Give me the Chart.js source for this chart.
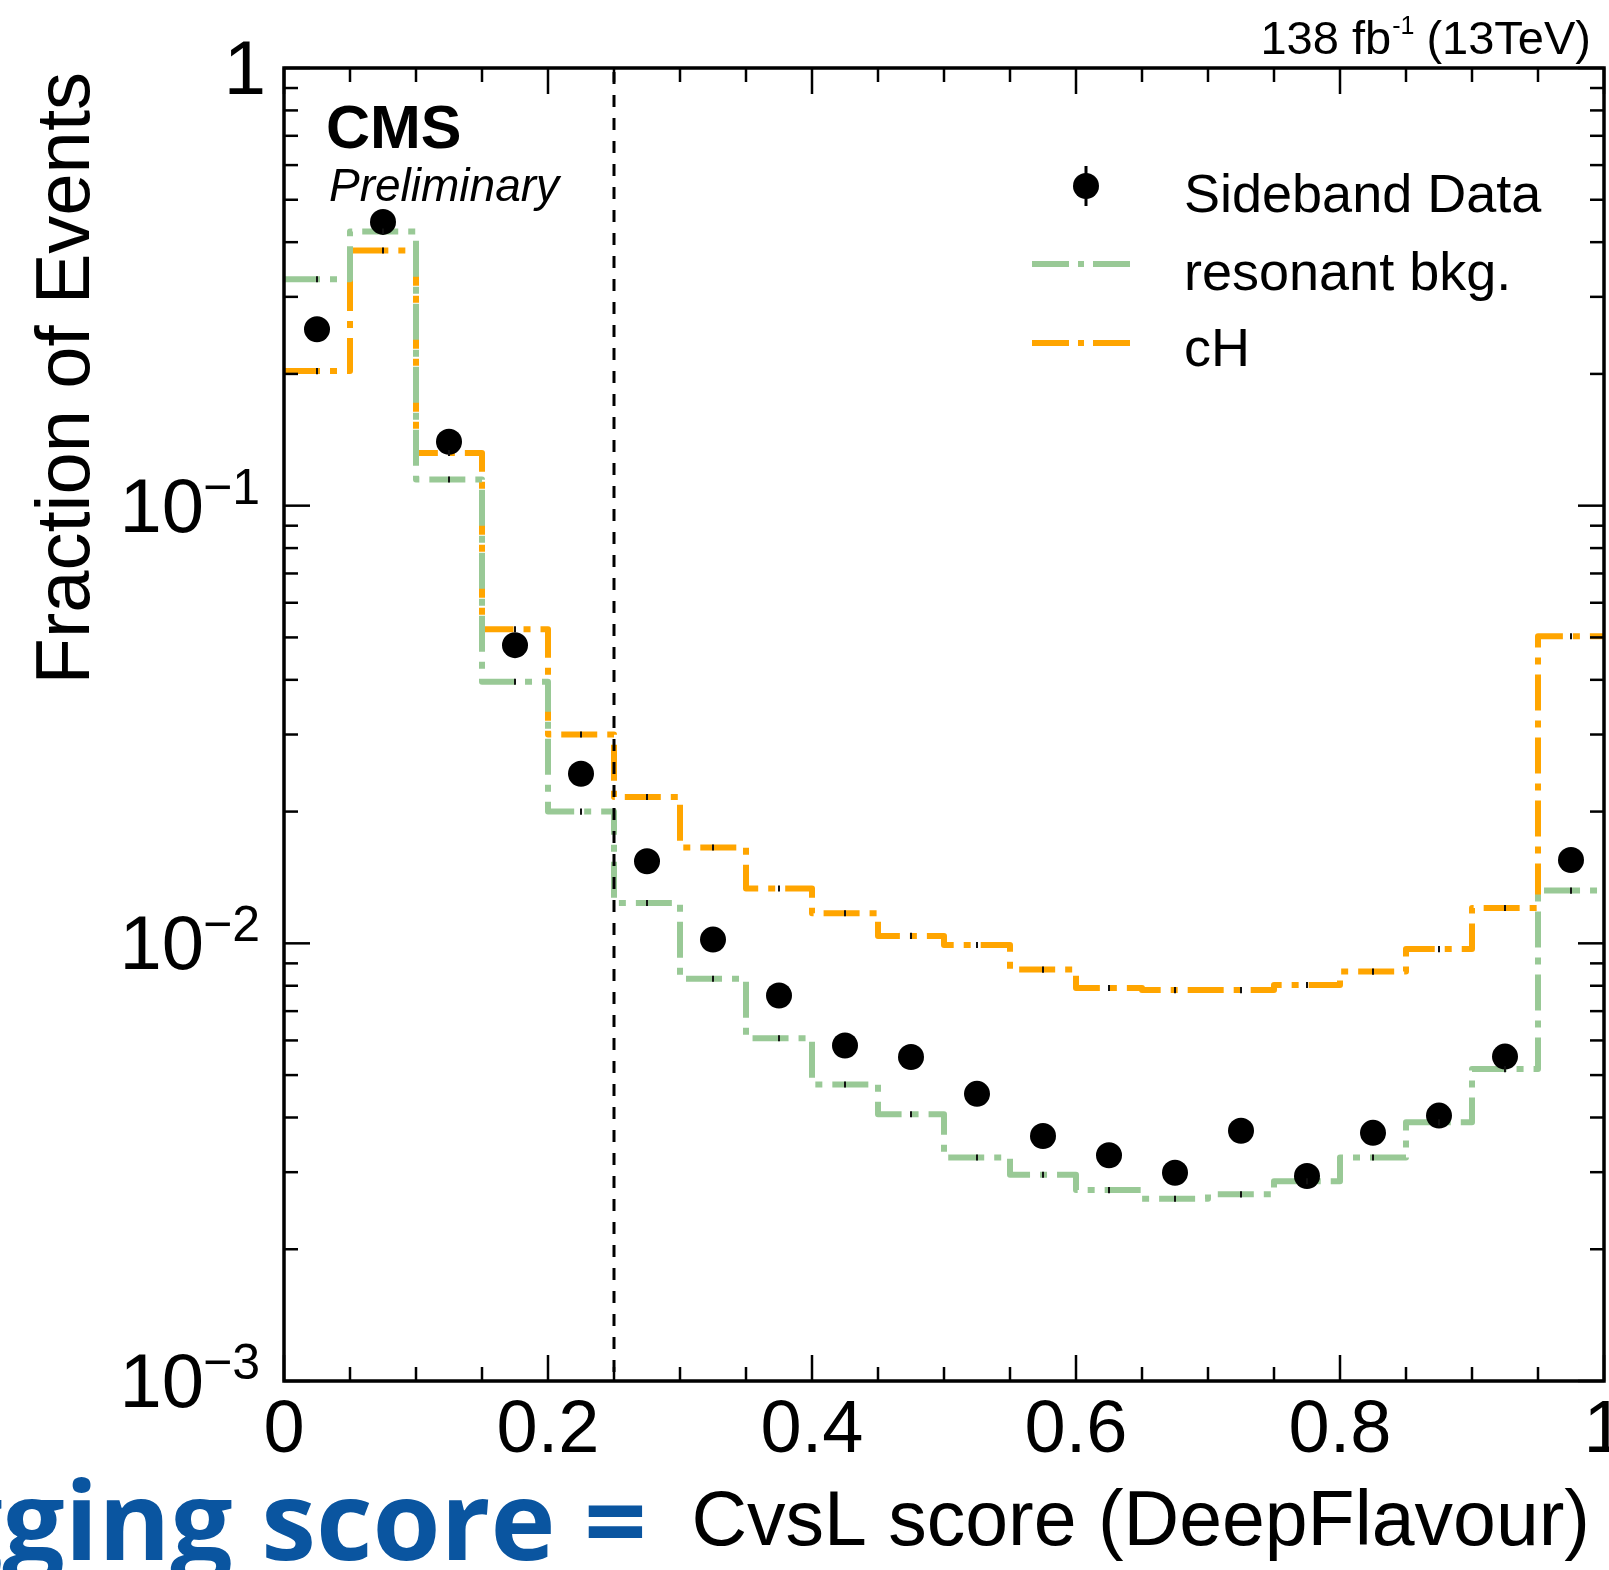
<!DOCTYPE html>
<html lang="en">
<head>
<meta charset="UTF-8" />
<title>CvsL score (DeepFlavour)</title>
<script src="https://cdn.jsdelivr.net/npm/chart.js"></script>
<style>
  html, body { margin: 0; padding: 0; background: #ffffff; }
  #wrap { width: 1609px; height: 1570px; }
</style>
</head>
<body>
<div id="wrap"><canvas id="myCanvas" width="1609" height="1570"></canvas></div>
<script>
  // bin edges of the CvsL score histogram
  const binEdges = [0, 0.05, 0.1, 0.15, 0.2, 0.25, 0.3, 0.35, 0.4, 0.45, 0.5,
                    0.55, 0.6, 0.65, 0.7, 0.75, 0.8, 0.85, 0.9, 0.95, 1.0];

  // fraction of events per bin
  const sidebandData = [0.253, 0.445, 0.140, 0.0480, 0.0244, 0.0154, 0.0102, 0.0076, 0.00584, 0.00550,
                        0.00453, 0.00363, 0.00328, 0.00299, 0.00373, 0.00294, 0.00369, 0.00404, 0.00551, 0.0155];
  const resonantBkg = [0.329, 0.423, 0.1148, 0.0396, 0.0200, 0.01237, 0.0083, 0.00607, 0.00476, 0.00407,
                       0.00324, 0.00296, 0.00273, 0.00261, 0.00267, 0.00286, 0.00324, 0.00390, 0.00516, 0.0132];
  const cHSignal = [0.203, 0.383, 0.132, 0.0522, 0.0300, 0.0216, 0.01656, 0.01334, 0.01172, 0.0104,
                    0.00991, 0.00871, 0.00791, 0.00782, 0.00782, 0.00803, 0.00862, 0.0097, 0.01204, 0.0503];
  const mcRelErr = 0.016;

  const cutValue = 0.25;

  const xMajorTicks = [0, 0.2, 0.4, 0.6, 0.8, 1];
  const xTickLabels = ['0', '0.2', '0.4', '0.6', '0.8', '1'];
  const yDecades = [1, 0.1, 0.01, 0.001];
  const yTickExponents = ['', '\u22121', '\u22122', '\u22123'];

  const GREEN = 'rgb(153, 201, 150)';
  const ORANGE = 'rgb(255, 165, 0)';
  const DASHDOT = [36, 10, 7, 10];
  const FONT = '"Liberation Sans", Arial, Helvetica, sans-serif';

  function stepPoints(values) {
    const pts = values.map(function (v, i) { return { x: binEdges[i], y: v }; });
    pts.push({ x: binEdges[binEdges.length - 1], y: values[values.length - 1] });
    return pts;
  }

  const binCenters = sidebandData.map(function (v, i) { return (binEdges[i] + binEdges[i + 1]) / 2; });

  // frame, inside ticks, labels, cut line, legend and headers
  const cmsDecor = {
    id: 'cmsDecor',
    afterDatasetsDraw(chart) {
      const ctx = chart.ctx;
      const a = chart.chartArea;
      const x = chart.scales.x, y = chart.scales.y;

      // small MC stat error marks at bin centres
      ctx.save();
      ctx.strokeStyle = '#111';
      ctx.lineWidth = 2;
      [resonantBkg, cHSignal].forEach(function (vals) {
        vals.forEach(function (v, i) {
          const px = x.getPixelForValue(binCenters[i]);
          ctx.beginPath();
          ctx.moveTo(px, y.getPixelForValue(v * (1 + mcRelErr)));
          ctx.lineTo(px, y.getPixelForValue(v * (1 - mcRelErr)));
          ctx.stroke();
        });
      });
      ctx.restore();

      // cut at 0.25
      ctx.save();
      ctx.strokeStyle = '#000';
      ctx.lineWidth = 3;
      ctx.setLineDash([12, 11]);
      const xc = x.getPixelForValue(cutValue);
      ctx.beginPath();
      ctx.moveTo(xc, a.top + 4);
      ctx.lineTo(xc, a.bottom);
      ctx.stroke();
      ctx.restore();
    },
    afterDraw(chart) {
      const ctx = chart.ctx;
      const a = chart.chartArea;
      const x = chart.scales.x, y = chart.scales.y;

      ctx.save();
      ctx.strokeStyle = '#000';
      ctx.fillStyle = '#000';

      // ticks
      ctx.lineWidth = 2.5;
      function seg(x1, y1, x2, y2) {
        ctx.beginPath(); ctx.moveTo(x1, y1); ctx.lineTo(x2, y2); ctx.stroke();
      }
      for (let i = 0; i <= 20; i++) {
        const v = i * 0.05;
        const px = x.getPixelForValue(v);
        const len = (i % 4 === 0) ? 26 : 14;
        seg(px, a.bottom, px, a.bottom - len);
        seg(px, a.top, px, a.top + len);
      }
      yDecades.forEach(function (d) {
        if (d >= 1) return;
        for (let k = 1; k <= 9; k++) {
          const py = y.getPixelForValue(d * k);
          const len = (k === 1) ? 26 : 14;
          seg(a.left, py, a.left + len, py);
          seg(a.right, py, a.right - len, py);
        }
      });
      const pTop = y.getPixelForValue(1);
      seg(a.left, pTop, a.left + 26, pTop);
      seg(a.right, pTop, a.right - 26, pTop);

      // frame
      ctx.lineWidth = 3.5;
      ctx.strokeRect(a.left, a.top, a.right - a.left, a.bottom - a.top);

      // x tick labels
      ctx.font = '74px ' + FONT;
      ctx.textAlign = 'center';
      ctx.textBaseline = 'alphabetic';
      xMajorTicks.forEach(function (v, i) {
        ctx.fillText(xTickLabels[i], x.getPixelForValue(v), a.bottom + 71);
      });

      // y tick labels 10^n
      yDecades.forEach(function (d, i) {
        const py = y.getPixelForValue(d);
        const exp = yTickExponents[i];
        ctx.textAlign = 'right';
        if (!exp) {
          ctx.font = '76px ' + FONT;
          ctx.fillText('1', 266, py + 26);
          return;
        }
        ctx.font = '50px ' + FONT;
        const w = ctx.measureText(exp).width;
        ctx.fillText(exp, 260, py - 2);
        ctx.font = '76px ' + FONT;
        ctx.fillText('10', 261 - w, py + 26);
      });

      // y title
      ctx.save();
      ctx.translate(89, a.top + 4);
      ctx.rotate(-Math.PI / 2);
      ctx.font = '76px ' + FONT;
      ctx.textAlign = 'right';
      ctx.fillText('Fraction of Events', 0, 0);
      ctx.restore();

      // x title
      ctx.textAlign = 'right';
      ctx.font = '77px ' + FONT;
      ctx.fillText('CvsL score (DeepFlavour)', 1590, 1545);
      ctx.font = '700 110px "Open Sans", sans-serif';
      ctx.fillStyle = '#0a55a0';
      ctx.fillText('tagging score =', 647, 1560);
      ctx.fillStyle = '#000';

      // lumi header
      ctx.textAlign = 'left';
      ctx.font = '47px ' + FONT;
      const t1 = '138 fb', t3 = ' (13TeV)';
      const w1 = ctx.measureText(t1).width, w3 = ctx.measureText(t3).width;
      ctx.font = '25px ' + FONT;
      const w2 = ctx.measureText('-1').width;
      let lx = 1591 - (w1 + w2 + w3);
      ctx.font = '47px ' + FONT;
      ctx.fillText(t1, lx, 54);
      ctx.font = '25px ' + FONT;
      ctx.fillText('-1', lx + w1 + 1, 34);
      ctx.font = '47px ' + FONT;
      ctx.fillText(t3, lx + w1 + w2, 54);

      // CMS label
      ctx.font = 'bold 61px ' + FONT;
      ctx.fillText('CMS', 326, 148);
      ctx.font = 'italic 46px ' + FONT;
      ctx.fillText('Preliminary', 329, 201);

      // legend
      ctx.beginPath();
      ctx.arc(1086, 186, 13, 0, Math.PI * 2);
      ctx.fill();
      ctx.lineWidth = 3;
      seg(1086, 166, 1086, 206);
      ctx.lineWidth = 6;
      ctx.setLineDash([37, 9, 6, 9]);
      ctx.strokeStyle = GREEN;
      seg(1032, 264, 1139, 264);
      ctx.strokeStyle = ORANGE;
      seg(1032, 343, 1139, 343);
      ctx.setLineDash([]);
      ctx.font = '54px ' + FONT;
      ctx.fillText('Sideband Data', 1184, 212);
      ctx.fillText('resonant bkg.', 1184, 290);
      ctx.fillText('cH', 1184, 366);

      ctx.restore();
    }
  };

  const dados = {
    datasets: [
      {
        label: 'Sideband Data',
        data: binCenters.map(function (c, i) { return { x: c, y: sidebandData[i] }; }),
        showLine: false,
        pointRadius: 13,
        pointHoverRadius: 13,
        pointBackgroundColor: '#000',
        pointBorderWidth: 0,
        borderColor: '#000'
      },
      {
        label: 'resonant bkg.',
        data: stepPoints(resonantBkg),
        stepped: true,
        borderColor: GREEN,
        borderWidth: 6,
        borderDash: DASHDOT,
        borderCapStyle: 'butt',
        borderJoinStyle: 'round',
        pointRadius: 0,
        fill: false
      },
      {
        label: 'cH',
        data: stepPoints(cHSignal),
        stepped: true,
        borderColor: ORANGE,
        borderWidth: 6,
        borderDash: DASHDOT,
        borderCapStyle: 'butt',
        borderJoinStyle: 'round',
        pointRadius: 0,
        fill: false
      }
    ]
  };

  const config = {
    type: 'line',
    data: dados,
    options: {
      responsive: false,
      animation: false,
      devicePixelRatio: 1,
      layout: { autoPadding: false, padding: { left: 284, right: 5, top: 68, bottom: 189 } },
      plugins: {
        legend: { display: false },
        tooltip: { enabled: false }
      },
      scales: {
        x: { type: 'linear', min: 0, max: 1, display: false },
        y: { type: 'logarithmic', min: 0.001, max: 1, display: false }
      }
    },
    plugins: [cmsDecor]
  };

  const myChart = new Chart(document.getElementById('myCanvas'), config);
</script>
</body>
</html>
